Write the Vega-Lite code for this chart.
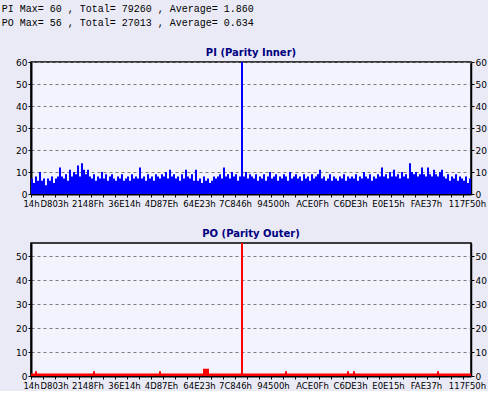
{
  "$schema": "https://vega.github.io/schema/vega-lite/v6.json",
  "background": "#EAEAF6",
  "padding": {"left": 1, "top": 4, "right": 0, "bottom": 0},
  "title": {
    "text": ["PI Max= 60 , Total= 79260 , Average= 1.860", "PO Max= 56 , Total= 27013 , Average= 0.634"],
    "anchor": "start",
    "frame": "bounds",
    "font": "Liberation Mono",
    "fontSize": 10,
    "fontWeight": "normal",
    "color": "#000000",
    "lineHeight": 14,
    "dx": -13,
    "offset": 19
  },
  "datasets": {
    "pi": [
      {"i":0,"v":7},{"i":1,"v":5},{"i":2,"v":8},{"i":3,"v":6},{"i":4,"v":10},{"i":5,"v":6},{"i":6,"v":7},
      {"i":7,"v":4},{"i":8,"v":7},{"i":9,"v":6},{"i":10,"v":8},{"i":11,"v":5},{"i":12,"v":7},{"i":13,"v":8},
      {"i":14,"v":12},
      {"i":15,"v":8},{"i":16,"v":7},{"i":17,"v":9},{"i":18,"v":6},
      {"i":19,"v":11},{"i":20,"v":8},
      {"i":21,"v":10},{"i":22,"v":9},
      {"i":23,"v":13},
      {"i":24,"v":8},
      {"i":25,"v":14},
      {"i":26,"v":11},{"i":27,"v":9},{"i":28,"v":11},
      {"i":29,"v":8},{"i":30,"v":7},{"i":31,"v":9},{"i":32,"v":6},{"i":33,"v":8},{"i":34,"v":7},
      {"i":35,"v":10},{"i":36,"v":7},{"i":37,"v":9},{"i":38,"v":6},{"i":39,"v":8},{"i":40,"v":9},
      {"i":41,"v":7},{"i":42,"v":6},{"i":43,"v":8},{"i":44,"v":7},{"i":45,"v":9},{"i":46,"v":6},{"i":47,"v":7},{"i":48,"v":8},{"i":49,"v":6},{"i":50,"v":9},{"i":51,"v":7},{"i":52,"v":8},
      {"i":53,"v":7},{"i":54,"v":12},
      {"i":55,"v":7},{"i":56,"v":8},{"i":57,"v":6},{"i":58,"v":9},{"i":59,"v":7},{"i":60,"v":8},{"i":61,"v":6},{"i":62,"v":9},{"i":63,"v":8},{"i":64,"v":7},
      {"i":65,"v":9},{"i":66,"v":8},{"i":67,"v":10},{"i":68,"v":7},{"i":69,"v":11},{"i":70,"v":8},{"i":71,"v":9},
      {"i":72,"v":7},{"i":73,"v":8},{"i":74,"v":6},{"i":75,"v":9},{"i":76,"v":7},{"i":77,"v":11},{"i":78,"v":8},{"i":79,"v":7},{"i":80,"v":9},{"i":81,"v":6},
      {"i":82,"v":11},
      {"i":83,"v":6},{"i":84,"v":7},{"i":85,"v":5},{"i":86,"v":8},{"i":87,"v":6},{"i":88,"v":7},{"i":89,"v":5},{"i":90,"v":6},{"i":91,"v":8},{"i":92,"v":7},
      {"i":93,"v":8},{"i":94,"v":9},{"i":95,"v":7},{"i":96,"v":12},{"i":97,"v":8},{"i":98,"v":9},{"i":99,"v":7},{"i":100,"v":10},{"i":101,"v":8},{"i":102,"v":9},{"i":103,"v":6},{"i":104,"v":8},
      {"i":105,"v":60},
      {"i":106,"v":8},{"i":107,"v":10},{"i":108,"v":7},{"i":109,"v":9},{"i":110,"v":8},{"i":111,"v":7},{"i":112,"v":9},{"i":113,"v":6},{"i":114,"v":8},
      {"i":115,"v":7},{"i":116,"v":9},{"i":117,"v":6},{"i":118,"v":8},{"i":119,"v":10},{"i":120,"v":7},{"i":121,"v":8},{"i":122,"v":9},{"i":123,"v":6},{"i":124,"v":8},{"i":125,"v":7},{"i":126,"v":9},{"i":127,"v":8},{"i":128,"v":6},{"i":129,"v":10},{"i":130,"v":7},{"i":131,"v":8},{"i":132,"v":9},{"i":133,"v":7},{"i":134,"v":8},
      {"i":135,"v":6},{"i":136,"v":9},{"i":137,"v":7},{"i":138,"v":8},{"i":139,"v":6},{"i":140,"v":9},{"i":141,"v":7},{"i":142,"v":8},{"i":143,"v":9},{"i":144,"v":11},
      {"i":145,"v":7},{"i":146,"v":8},{"i":147,"v":6},{"i":148,"v":7},{"i":149,"v":9},{"i":150,"v":6},{"i":151,"v":8},{"i":152,"v":7},{"i":153,"v":6},{"i":154,"v":8},{"i":155,"v":7},{"i":156,"v":9},{"i":157,"v":6},{"i":158,"v":8},{"i":159,"v":7},
      {"i":160,"v":8},{"i":161,"v":7},{"i":162,"v":9},{"i":163,"v":6},{"i":164,"v":8},{"i":165,"v":7},{"i":166,"v":10},{"i":167,"v":8},{"i":168,"v":7},{"i":169,"v":9},{"i":170,"v":6},{"i":171,"v":8},{"i":172,"v":7},{"i":173,"v":9},{"i":174,"v":8},
      {"i":175,"v":12},
      {"i":176,"v":8},{"i":177,"v":9},{"i":178,"v":7},{"i":179,"v":10},{"i":180,"v":8},{"i":181,"v":11},{"i":182,"v":8},{"i":183,"v":9},{"i":184,"v":7},{"i":185,"v":10},{"i":186,"v":8},{"i":187,"v":9},{"i":188,"v":7},
      {"i":189,"v":14},
      {"i":190,"v":10},{"i":191,"v":9},{"i":192,"v":10},{"i":193,"v":8},{"i":194,"v":9},
      {"i":195,"v":12},
      {"i":196,"v":9},{"i":197,"v":8},
      {"i":198,"v":12},
      {"i":199,"v":9},{"i":200,"v":8},{"i":201,"v":11},{"i":202,"v":9},{"i":203,"v":8},{"i":204,"v":10},{"i":205,"v":11},{"i":206,"v":8},
      {"i":207,"v":7},{"i":208,"v":9},{"i":209,"v":6},{"i":210,"v":8},{"i":211,"v":7},{"i":212,"v":9},{"i":213,"v":6},{"i":214,"v":8},{"i":215,"v":7},{"i":216,"v":6},{"i":217,"v":8},{"i":218,"v":5},{"i":219,"v":7},
      {"i":220,"v":7}
    ],
    "po": [
      {"i":0,"v":1},{"i":2,"v":2},{"i":3,"v":1},{"i":31,"v":2},{"i":32,"v":1},{"i":64,"v":2},{"i":65,"v":1},
      {"i":86,"v":3},{"i":89,"v":1},{"i":105,"v":56},{"i":106,"v":1},{"i":127,"v":2},{"i":128,"v":1},
      {"i":158,"v":2},{"i":159,"v":1},{"i":161,"v":2},{"i":162,"v":1},{"i":203,"v":2},{"i":204,"v":1},{"i":220,"v":1}
    ]
  },
  "spacing": 19,
  "vconcat": [
    {
      "width": 440,
      "height": 132,
      "title": {"text": "PI (Parity Inner)", "font": "DejaVu Sans", "fontSize": 10, "fontWeight": "bold", "color": "#000080", "anchor": "middle", "frame": "group", "offset": 0},
      "data": {"name": "pi"},
      "layer": [
        {
          "mark": {"type": "area", "interpolate": "step-after", "color": "#0000FF", "clip": true, "opacity": 1},
          "encoding": {
            "x": {"field": "i", "type": "quantitative", "scale": {"domain": [0, 220], "nice": false, "zero": false},
              "axis": {"title": null, "orient": "bottom", "values": [0,11.5,28.25,46.5,65,84,102,121,140.5,159.5,178.5,197.5,218],
                "labelExpr": "['14h','D803h','2148Fh','36E14h','4D87Eh','64E23h','7C846h','94500h','ACE0Fh','C6DE3h','E0E15h','FAE37h','117F50h'][indexof([0,11.5,28.25,46.5,65,84,102,121,140.5,159.5,178.5,197.5,218], datum.value)]",
                "ticks": false, "grid": false, "domain": true, "domainWidth": 2, "labelPadding": 5, "labelFontSize": 8.5, "labelOverlap": false, "labelFlush": false, "labelBound": false}},
            "y": {"field": "v", "type": "quantitative", "scale": {"domain": [0, 60], "nice": false, "zero": true},
              "axis": {"title": null, "orient": "left", "values": [0,10,20,30,40,50,60], "grid": true, "gridDash": [3,3], "gridColor": "#7A7A7A", "tickSize": 3, "labelPadding": 1, "domainWidth": 2}}
          }
        },
        {
          "mark": {"type": "point", "opacity": 0},
          "encoding": {
            "x": {"field": "i", "type": "quantitative",
              "axis": {"title": null, "orient": "bottom", "values": [0,6,12,18,24,30,36,42,48,54,60,66,72,78,84,90,96,102,108,114,120,126,132,138,144,150,156,162,168,174,180,186,192,198,204,210,216], "labels": false, "ticks": true, "tickSize": 3, "domain": false, "grid": false}},
            "y": {"field": "v", "type": "quantitative",
              "axis": {"title": null, "orient": "right", "values": [0,10,20,30,40,50,60], "grid": false, "tickSize": 3, "labelPadding": 1, "domainWidth": 1.5}}
          }
        }
      ],
      "resolve": {"axis": {"x": "independent", "y": "independent"}}
    },
    {
      "width": 440,
      "height": 133,
      "title": {"text": "PO (Parity Outer)", "font": "DejaVu Sans", "fontSize": 10, "fontWeight": "bold", "color": "#000080", "anchor": "middle", "frame": "group", "offset": 0},
      "data": {"name": "po"},
      "layer": [
        {
          "mark": {"type": "area", "interpolate": "step-after", "color": "#FF0000", "clip": true, "opacity": 1},
          "encoding": {
            "x": {"field": "i", "type": "quantitative", "scale": {"domain": [0, 220], "nice": false, "zero": false},
              "axis": {"title": null, "orient": "bottom", "values": [0,11.5,28.25,46.5,65,84,102,121,140.5,159.5,178.5,197.5,218],
                "labelExpr": "['14h','D803h','2148Fh','36E14h','4D87Eh','64E23h','7C846h','94500h','ACE0Fh','C6DE3h','E0E15h','FAE37h','117F50h'][indexof([0,11.5,28.25,46.5,65,84,102,121,140.5,159.5,178.5,197.5,218], datum.value)]",
                "ticks": false, "grid": false, "domain": true, "domainWidth": 2, "labelPadding": 5, "labelFontSize": 8.5, "labelOverlap": false, "labelFlush": false, "labelBound": false}},
            "y": {"field": "v", "type": "quantitative", "scale": {"domain": [0, 55.5], "nice": false, "zero": true},
              "axis": {"title": null, "orient": "left", "values": [0,10,20,30,40,50], "grid": true, "gridDash": [3,3], "gridColor": "#7A7A7A", "tickSize": 3, "labelPadding": 1, "domainWidth": 2}}
          }
        },
        {
          "mark": {"type": "point", "opacity": 0},
          "encoding": {
            "x": {"field": "i", "type": "quantitative",
              "axis": {"title": null, "orient": "bottom", "values": [0,6,12,18,24,30,36,42,48,54,60,66,72,78,84,90,96,102,108,114,120,126,132,138,144,150,156,162,168,174,180,186,192,198,204,210,216], "labels": false, "ticks": true, "tickSize": 3, "domain": false, "grid": false}},
            "y": {"field": "v", "type": "quantitative",
              "axis": {"title": null, "orient": "right", "values": [0,10,20,30,40,50], "grid": false, "tickSize": 3, "labelPadding": 1, "domainWidth": 1.5}}
          }
        }
      ],
      "resolve": {"axis": {"x": "independent", "y": "independent"}}
    }
  ],
  "config": {
    "view": {"fill": "#F3F3FD", "stroke": "#000000", "strokeWidth": 1.5},
    "axis": {"labelFont": "DejaVu Sans", "labelFontSize": 9, "labelColor": "#000000", "tickColor": "#000000", "domainColor": "#000000", "gridWidth": 1}
  }
}
